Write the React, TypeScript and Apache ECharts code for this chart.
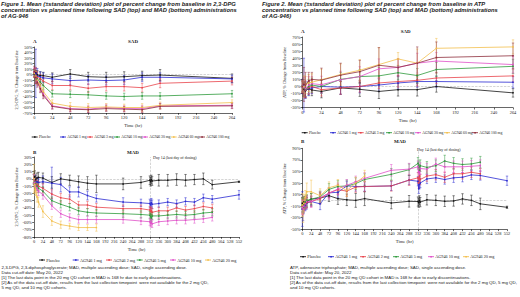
import React, { useEffect, useRef } from "react";
import * as echarts from "echarts";

// ---------------- data ----------------
const SAD_TIMES = [0, 2, 4, 8, 12, 24, 48, 72, 96, 120, 144, 168, 264];
const MAD_TIMES = [0, 2, 4, 8, 12, 24, 48, 72, 96, 120, 144, 168, 240, 288, 312, 314, 316, 318, 336, 360, 384, 408, 432, 456, 480, 552];

const SAD_NAMES = ["Placebo", "AG946 1 mg", "AG946 3 mg", "AG946 10 mg", "AG946 30 mg", "AG946 60 mg", "AG946 100 mg"];
const MAD_NAMES = ["Placebo", "AG946 1 mg", "AG946 2 mg", "AG946 5 mg", "AG946 10 mg", "AG946 20 mg"];

// Figure 1, SAD (2,3-DPG)
const F1S_PBO = [1, 3, -1, -2, -2, -5, 1, -4, -5, -4, -2, -1, -7];
const F1S_PBO_SD = [4, 9, 8, 7, 6, 8, 8, 8, 9, 9, 8, 10, 8];
const F1S_1 = [2, 2, -3, -4, -6, -8, -11, -10, -11, -10, -5, -5, -8];
const F1S_1_SD = [6, 44, 14, 9, 9, 9, 8, 8, 8, 8, 8, 8, 7];
const F1S_3 = [3, -2, -5, -8, -12, -20, -20, -25, -22, -22, -24, -16, -12];
const F1S_3_SD = [8, 14, 10, 8, 8, 8, 8, 8, 8, 8, 8, 8, 7];
const F1S_10 = [2, -3, -8, -14, -20, -35, -36, -37, -39, -40, -39, -39, -35];
const F1S_10_SD = [6, 10, 8, 7, 7, 6, 6, 6, 6, 6, 6, 6, 6];
const F1S_30 = [4, -4, -12, -24, -35, -57, -62, -63, -60, -62, -62, -57, -56];
const F1S_30_SD = [8, 10, 8, 7, 6, 5, 5, 6, 6, 5, 6, 5, 5];
const F1S_60 = [2, -3, -10, -21, -31, -52, -58, -60, -59, -60, -60, -56, -51];
const F1S_60_SD = [6, 9, 8, 7, 7, 6, 7, 7, 6, 6, 7, 6, 5];
const F1S_100 = [5, -5, -14, -26, -38, -58, -63, -64, -62, -63, -64, -58, -57];
const F1S_100_SD = [10, 12, 9, 7, 6, 5, 5, 5, 5, 5, 5, 5, 5];

// Figure 1, MAD (2,3-DPG)
const F1M_PBO = [0, 3, -2, 1, 2, 1, -5, 0, -2, -4, -6, -7, -7, -5, -2, -4, -1, -3, -2, -2, -1, -2, -1, 0, -8, -4];
const F1M_PBO_SD = [8, 8, 7, 7, 7, 7, 8, 7, 7, 8, 9, 12, 8, 8, 6, 6, 6, 6, 8, 8, 8, 8, 7, 8, 6, 1];
const F1M_1 = [0, -3, -5, -4, -5, -4, -6, -8, -18, -18, -23, -27, -32, -33, -34, -36, -33, -35, -34, -32, -34, -31, -32, -26, -28, -22];
const F1M_1_SD = [6, 8, 6, 6, 6, 8, 22, 10, 7, 7, 6, 5, 6, 5, 6, 6, 6, 6, 5, 5, 5, 5, 5, 5, 5, 6];
const F1M_2 = [0, -3, -6, -8, -10, -13, -21, -26, -28, -36, -36, -39, -41, -41, -43, -45, -44, -46, -44, -44, -40, -43, -41, -38, -40, null];
const F1M_2_SD = [6, 6, 6, 6, 6, 6, 6, 6, 6, 5, 5, 5, 5, 5, 5, 5, 5, 5, 5, 5, 5, 5, 5, 5, 5, null];
const F1M_5 = [0, -4, -7, -10, -13, -17, -30, -35, -39, -44, -46, -47, -48, -49, -50, -52, -54, -51, -51, -50, -49, -50, -49, -47, -46, null];
const F1M_5_SD = [6, 6, 6, 6, 6, 6, 5, 5, 5, 5, 5, 5, 5, 5, 5, 5, 5, 5, 5, 5, 5, 5, 5, 5, 5, null];
const F1M_10 = [0, -5, -9, -13, -17, -22, -37, -48, -53, -56, -56, -56, -56, -58, -59, -61, -60, -62, -59, -58, -57, -57, -56, -55, -53, null];
const F1M_10_SD = [6, 6, 6, 6, 6, 6, 5, 5, 5, 5, 5, 5, 5, 5, 5, 5, 5, 5, 5, 5, 5, 5, 5, 5, 5, null];
const F1M_20 = [0, -8, -15, -25, -32, -45, -58, -63, -65, -67, -67, -67, null, null, null, null, null, null, null, null, null, null, null, null, null, null];
const F1M_20_SD = [20, 10, 8, 7, 7, 8, 6, 5, 4, 4, 4, 5, null, null, null, null, null, null, null, null, null, null, null, null, null, null];

// Figure 2, SAD (ATP)
const F2S_PBO = [0, -4, -6, -3, -5, -7, -2, -4, -7, -4.5, -4.5, 0, -9];
const F2S_PBO_SD = [8, 10, 9, 9, 8, 9, 9, 10, 10, 9, 9, 8, 6];
const F2S_1 = [0, 2, -5, -3, -2, 0, -1, 0, 2, 5, 7, 7, 6];
const F2S_1_SD = [10, 38, 12, 10, 8, 9, 10, 9, 9, 9, 8, 8, 8];
const F2S_3 = [0, -3, -5, -2, 0, -4.5, -2, 0, 5, 7, 8.7, 12, 15];
const F2S_3_SD = [8, 10, 10, 9, 9, 9, 9, 8, 8, 8, 8, 8, 9];
const F2S_10 = [0, -2, -4, 0, 2, 0, 10, 14, 15, 19.5, 15.5, 24, 28.5];
const F2S_10_SD = [8, 12, 10, 10, 10, 10, 10, 10, 12, 10, 10, 10, 10];
const F2S_30 = [0, -1, -3, 2, 4, 2.5, 9.6, 14, 25, 27, 33, 36, 31];
const F2S_30_SD = [8, 14, 12, 12, 10, 12, 12, 14, 14, 12, 14, 12, 12];
const F2S_60 = [0, 0, 2, 5, 6, 9.6, 17, 23, 31, 39, 33, 54, 56];
const F2S_60_SD = [8, 15, 12, 12, 12, 15, 15, 15, 24, 9, 20, 14, 10];
const F2S_100 = [0, 3, 2, 8, 10, 9, 16, 21, 30, 27, 33, 41, 43.5];
const F2S_100_SD = [10, 24, 18, 12, 10, 17, 17, 16, 25, 12, 23, 22, 18];

// Figure 2, MAD (ATP)
const F2M_PBO = [-5, -8, -3, -6, -2, 2, 4, 8, 3, 1, 0, 3, -4.5, -1.6, -2, -4, 0, -3, 1, 0, -1.6, -1, 2.5, 0, -6, -12];
const F2M_PBO_SD = [10, 12, 10, 10, 10, 10, 10, 10, 10, 10, 12, 12, 10, 10, 8, 8, 8, 8, 9, 9, 9, 9, 9, 9, 10, 2];
const F2M_1 = [-15, -20, -10, -8, -5, -2, -6, 13, 14, 25, 24, 24, 25, 35, 33, 20, 28, 30, 37, 39, 36, 39, 40, 44, 43, 34];
const F2M_1_SD = [30, 15, 12, 10, 10, 8, 10, 8, 10, 8, 8, 8, 8, 8, 8, 8, 8, 8, 8, 8, 8, 8, 8, 8, 8, 8];
const F2M_2 = [-10, -14, -8, -5, -4, -2, 3, 13, 18.5, 16, 23, 24, 25, 35, 39, 30, 42, 36, 42, 44.5, 40, 46, 46, 48.6, 46, null];
const F2M_2_SD = [12, 10, 10, 9, 9, 9, 9, 9, 9, 9, 9, 9, 9, 9, 9, 9, 9, 9, 9, 9, 9, 9, 9, 9, 9, null];
const F2M_5 = [-8, -12, -6, -3, 0, 2, 6, 19, 24, 25, 29, 36, 45, 53, 64, 58, 52, 60, 57, 60, 68, 64, 62, 63, 66, null];
const F2M_5_SD = [12, 10, 10, 10, 10, 10, 10, 10, 10, 10, 10, 10, 10, 10, 10, 10, 10, 10, 10, 10, 10, 10, 10, 10, 10, null];
const F2M_10 = [-12, -15, -10, -6, -2, -2, 5, 12, 20, 26, 32, 38, 52, 54, 58, 50, 46, 55, 54, 63, 58, 58, 58, 59, 60, null];
const F2M_10_SD = [12, 10, 10, 10, 10, 10, 10, 10, 10, 10, 10, 10, 10, 10, 10, 10, 10, 10, 10, 10, 10, 10, 10, 10, 10, null];
const F2M_20 = [-8, -20, -5, 5, 15, 15, 8, 22, 26, 17, 30, 42, null, null, null, null, null, null, null, null, null, null, null, null, null, null];
const F2M_20_SD = [20, 18, 15, 12, 15, 20, 12, 10, 10, 10, 10, 10, null, null, null, null, null, null, null, null, null, null, null, null, null, null];

// tick settings
const SAD_X_MAX = 264;
const MAD_X_MAX = 552;
const X_STEP = 24;

// ---------------- texts ----------------
const F1_TITLE = [
  "Figure 1. Mean (\u00b1standard deviation) plot of percent change from baseline in 2,3-DPG",
  "concentration vs planned time following SAD (top) and MAD (bottom) administrations",
  "of AG-946",
];
const F2_TITLE = [
  "Figure 2. Mean (\u00b1standard deviation) plot of percent change from baseline in ATP",
  "concentration vs planned time following SAD (top) and MAD (bottom) administrations",
  "of AG-946)",
];
const F1_NOTES = [
  "2,3-DPG, 2,3-diphosphoglycerate; MAD, multiple ascending dose; SAD, single ascending dose.",
  "Data cut-off date: May 20, 2022",
  "[1] The last data point in the 20 mg QD cohort in MAD is 168 hr due to early discontinuations.",
  "[2] As of the data cut-off date, results from the last collection timepoint  were not available for the 2 mg QD,",
  "5 mg QD, and 10 mg QD cohorts.",
];
const F2_NOTES = [
  "ATP, adenosine triphosphate; MAD, multiple ascending dose; SAD, single ascending dose.",
  "Data cut-off date: May 20, 2022",
  "[1] The last data point in the 20 mg QD cohort in MAD is 168 hr due to early discontinuations.",
  "[2] As of the data cut-off date, results from the last collection timepoint  were not available for the 2 mg QD, 5 mg QD,",
  "and 10 mg QD cohorts.",
];

// ---------------- styles ----------------
const SERIF = '"Liberation Serif", "Times New Roman", serif';
const SANS = '"Liberation Sans", Arial, sans-serif';
const C_PBO = "#141414";
const C_BLUE = "#2a2ad2";
const C_RED = "#e8424a";
const C_GREEN = "#2e9a3c";
const C_MAG = "#e04fc8";
const C_ORG = "#f3bf4c";
const C_DRED = "#8e2f3c";
const SAD_COLORS = [C_PBO, C_BLUE, C_RED, C_GREEN, C_MAG, C_ORG, C_DRED];
const MAD_COLORS = [C_PBO, C_BLUE, C_RED, C_GREEN, C_MAG, C_ORG];

const PANELS = [
  {
    times: SAD_TIMES, names: SAD_NAMES, colors: SAD_COLORS, xMax: SAD_X_MAX,
    yMin: -70, yMax: 50, yStep: 10, yName: "2,3-DPG, % Change from Baseline",
    values: [F1S_PBO, F1S_1, F1S_3, F1S_10, F1S_30, F1S_60, F1S_100],
    sds: [F1S_PBO_SD, F1S_1_SD, F1S_3_SD, F1S_10_SD, F1S_30_SD, F1S_60_SD, F1S_100_SD],
    grid: { left: 34.3, top: 47, width: 197.7, height: 66 }, nameGap: 11, day14: false,
  },
  {
    times: MAD_TIMES, names: MAD_NAMES, colors: MAD_COLORS, xMax: MAD_X_MAX,
    yMin: -80, yMax: 30, yStep: 10, yName: "2,3-DPG, % Change from Baseline",
    values: [F1M_PBO, F1M_1, F1M_2, F1M_5, F1M_10, F1M_20],
    sds: [F1M_PBO_SD, F1M_1_SD, F1M_2_SD, F1M_5_SD, F1M_10_SD, F1M_20_SD],
    grid: { left: 34, top: 157, width: 205, height: 80 }, nameGap: 11, day14: true,
  },
  {
    times: SAD_TIMES, names: SAD_NAMES, colors: SAD_COLORS, xMax: SAD_X_MAX,
    yMin: -30, yMax: 70, yStep: 10, yName: "ATP, % Change from Baseline",
    values: [F2S_PBO, F2S_1, F2S_3, F2S_10, F2S_30, F2S_60, F2S_100],
    sds: [F2S_PBO_SD, F2S_1_SD, F2S_3_SD, F2S_10_SD, F2S_30_SD, F2S_60_SD, F2S_100_SD],
    grid: { left: 302.3, top: 37, width: 210.7, height: 70.7 }, nameGap: 13, day14: false,
  },
  {
    times: MAD_TIMES, names: MAD_NAMES, colors: MAD_COLORS, xMax: MAD_X_MAX,
    yMin: -50, yMax: 90, yStep: 20, yName: "ATP, % Change from Baseline",
    values: [F2M_PBO, F2M_1, F2M_2, F2M_5, F2M_10, F2M_20],
    sds: [F2M_PBO_SD, F2M_1_SD, F2M_2_SD, F2M_5_SD, F2M_10_SD, F2M_20_SD],
    grid: { left: 302.3, top: 148.3, width: 204.7, height: 81 }, nameGap: 13, day14: true,
  },
];

const LEGENDS = [
  { panel: 0, y: 137, xs: [31.7, 60, 87, 114, 142, 170.7, 199], size: 3.7 },
  { panel: 1, y: 260, xs: [39, 72.7, 106, 136.7, 170, 205], size: 4.2 },
  { panel: 2, y: 132.7, xs: [301.7, 330, 357.7, 386, 415, 444, 472], size: 3.7 },
  { panel: 3, y: 256.7, xs: [300, 328, 360, 393, 428, 463], size: 4.2 },
];

function text(x: number, y: number, str: string, o: any = {}) {
  return {
    type: "text",
    x,
    y,
    silent: true,
    style: {
      text: str,
      fontSize: o.size ?? 4.4,
      fontFamily: o.family ?? SERIF,
      fontWeight: o.weight ?? "normal",
      fontStyle: o.style ?? "normal",
      fill: o.fill ?? "#1a1a1a",
      align: o.align ?? "left",
      verticalAlign: "middle",
    },
  };
}

function errRenderer(color: string) {
  return (params: any, api: any) => {
    const x = api.value(0);
    const m = api.value(1);
    const s = api.value(2);
    const p1 = api.coord([x, m + s]);
    const p2 = api.coord([x, m - s]);
    const w = 1.2;
    const style = { stroke: color, lineWidth: 0.5, fill: "none" };
    return {
      type: "group",
      children: [
        { type: "line", shape: { x1: p1[0], y1: p1[1], x2: p2[0], y2: p2[1] }, style },
        { type: "line", shape: { x1: p1[0] - w, y1: p1[1], x2: p1[0] + w, y2: p1[1] }, style },
        { type: "line", shape: { x1: p2[0] - w, y1: p2[1], x2: p2[0] + w, y2: p2[1] }, style },
      ],
    };
  };
}

function buildOption() {
  const grid: any[] = [];
  const xAxis: any[] = [];
  const yAxis: any[] = [];
  const series: any[] = [];
  const axisLineStyle = { color: "#000", width: 0.6 };

  PANELS.forEach((p, gi) => {
    grid.push({ ...p.grid, containLabel: false, outerBoundsMode: "none" });
    xAxis.push({
      type: "value", gridIndex: gi, min: 0, max: p.xMax, interval: X_STEP,
      name: "Time (hr)", nameLocation: "middle", nameGap: 10,
      nameTextStyle: { fontSize: 4.6, fontFamily: SERIF, color: "#1a1a1a" },
      axisLine: { show: true, onZero: false, lineStyle: axisLineStyle },
      axisTick: { show: true, length: 1.8, lineStyle: axisLineStyle },
      axisLabel: { fontSize: 4.4, fontFamily: SERIF, color: "#1a1a1a", margin: 2.5 },
      splitLine: { show: false },
    });
    yAxis.push({
      type: "value", gridIndex: gi, min: p.yMin, max: p.yMax, interval: p.yStep,
      name: p.yName, nameLocation: "middle", nameGap: p.nameGap,
      nameTextStyle: { fontSize: 4.2, fontFamily: SERIF, color: "#1a1a1a" },
      axisLine: { show: true, onZero: false, lineStyle: axisLineStyle },
      axisTick: { show: true, length: 1.8, lineStyle: axisLineStyle },
      axisLabel: { fontSize: 4.4, fontFamily: SERIF, color: "#1a1a1a", margin: 2, formatter: "{value}%" },
      splitLine: { show: false },
    });

    p.values.forEach((vals, si) => {
      const color = p.colors[si];
      const sd = p.sds[si];
      const lineData = p.times.map((t, i) => [t, vals[i]]).filter((d) => d[1] !== null);
      const errData = p.times
        .map((t, i) => (vals[i] === null ? null : [t, vals[i], sd[i]]))
        .filter((d) => d !== null);
      const lineSeries: any = {
        type: "line", name: p.names[si], xAxisIndex: gi, yAxisIndex: gi,
        data: lineData, symbol: "rect", symbolSize: 1.5, showSymbol: true,
        lineStyle: { width: 0.8, color }, itemStyle: { color }, silent: true, z: 3,
      };
      if (si === 0) {
        const ml: any[] = [{ yAxis: 0 }];
        if (p.day14) ml.push({ xAxis: 312 });
        lineSeries.markLine = {
          silent: true, symbol: ["none", "none"], label: { show: false },
          lineStyle: { color: "#b8b8b8", type: "dashed", width: 0.6 },
          data: ml, z: 1,
        };
      }
      series.push(lineSeries);
      series.push({
        type: "custom", xAxisIndex: gi, yAxisIndex: gi, data: errData,
        encode: { x: 0, y: 1 }, renderItem: errRenderer(color), silent: true, z: 2,
      });
    });
  });

  const graphic: any[] = [];
  const titleStyle = { size: 5.8, family: SANS, weight: "bold", style: "italic" };
  F1_TITLE.forEach((l, i) => graphic.push(text(1, 4.3 + i * 5.9, l, titleStyle)));
  F2_TITLE.forEach((l, i) => graphic.push(text(262, 4.3 + i * 5.9, l, titleStyle)));
  F1_NOTES.forEach((l, i) => graphic.push(text(1.5, 267.5 + i * 4.9, l, { size: 4.4, family: SANS })));
  F2_NOTES.forEach((l, i) => graphic.push(text(290, 267.5 + i * 4.9, l, { size: 4.4, family: SANS })));

  const bold = { size: 5, weight: "bold" };
  graphic.push(text(33, 41, "A", bold), text(133, 41, "SAD", { ...bold, align: "center" }));
  graphic.push(text(33, 152, "B", bold), text(133, 152, "MAD", { ...bold, align: "center" }));
  graphic.push(text(301, 31, "A", bold), text(405.7, 31, "SAD", { ...bold, align: "center" }));
  graphic.push(text(301, 141.3, "B", bold), text(400, 141.3, "MAD", { ...bold, align: "center" }));
  graphic.push(text(153, 157.5, "Day 14 (last day of dosing)", { size: 4 }));
  graphic.push(text(417, 149, "Day 14 (last day of dosing)", { size: 4 }));

  LEGENDS.forEach((lg) => {
    const p = PANELS[lg.panel];
    lg.xs.forEach((x, i) => {
      const c = p.colors[i];
      graphic.push({
        type: "line", silent: true,
        shape: { x1: x, y1: lg.y, x2: x + 6, y2: lg.y },
        style: { stroke: c, lineWidth: 0.9 },
      });
      graphic.push({
        type: "rect", silent: true,
        shape: { x: x + 2.3, y: lg.y - 0.8, width: 1.6, height: 1.6 },
        style: { fill: c },
      });
      graphic.push(text(x + 7.3, lg.y, p.names[i], { size: lg.size }));
    });
  });

  return {
    animation: false,
    backgroundColor: "#ffffff",
    grid, xAxis, yAxis, series, graphic,
  };
}

export default function App() {
  const ref = useRef<HTMLDivElement>(null);
  useEffect(() => {
    if (!ref.current) return;
    const chart = echarts.init(ref.current, undefined, { renderer: "svg" });
    chart.setOption(buildOption() as any);
    return () => chart.dispose();
  }, []);
  return (
    <div
      ref={ref}
      style={{ position: "absolute", left: 0, top: 0, width: 520, height: 297, background: "#fff" }}
    />
  );
}
